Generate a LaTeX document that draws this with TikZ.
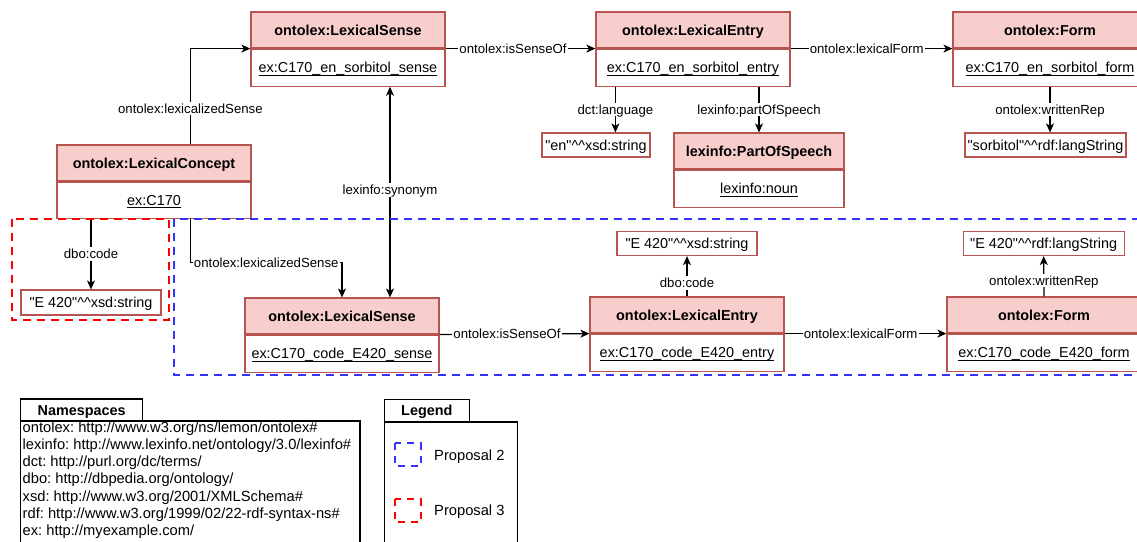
\documentclass[tikz,border=0pt]{standalone}
\usepackage{fontspec}
\setmainfont{Liberation Sans}[Ligatures=TeXOff]
\usetikzlibrary{arrows.meta,calc}
\frenchspacing

\definecolor{hdrfill}{HTML}{F8CECC}
\definecolor{hdrdraw}{HTML}{B85450}
\definecolor{propblue}{HTML}{3333FF}
\definecolor{propred}{HTML}{FF0000}

\newcommand\boxfont{\fontsize{14.4}{17.28}\selectfont}
\newcommand\nsfont{\fontsize{14.7}{17.6}\selectfont}
\newcommand\lblfont{\fontsize{13.2}{15.84}\selectfont}
% underlined resource name with a fixed rule position
\newcommand\ulin[1]{\setbox0\hbox{#1}\rlap{\rule[-2.6pt]{\wd0}{1pt}}\box0}
\newcommand\dcaret{\textasciicircum\textasciicircum}

\tikzset{
  hdr/.style={draw=hdrdraw, fill=hdrfill, line width=1.2pt, minimum width=#1,
    minimum height=36, inner sep=0pt, text height=11, text depth=0.6,
    font=\boxfont\bfseries},
  body/.style={draw=hdrdraw, fill=white, line width=1.2pt, minimum width=#1,
    minimum height=37, inner sep=0pt, text height=11, text depth=0.6,
    font=\boxfont, anchor=north},
  lit/.style={draw=hdrdraw, fill=white, line width=1.2pt, minimum width=#1,
    minimum height=24, inner sep=0pt, text height=11, text depth=0.6,
    font=\boxfont},
  lbl/.style={fill=white, inner sep=1.2pt, text height=10, text depth=1,
    font=\lblfont, text=black},
  arr/.style={line width=1.2pt, -{Stealth[length=9pt,width=8pt,inset=2.5pt]}},
  dblarr/.style={line width=1.2pt,
    {Stealth[length=9pt,width=8pt,inset=2.5pt]}-{Stealth[length=9pt,width=8pt,inset=2.5pt]}},
  proposal/.style={line width=2.2pt, dash pattern=on 8pt off 6pt},
  tabbox/.style={draw=black, line width=1.3pt, inner sep=0pt, text height=11,
    text depth=0.6, font=\boxfont\bfseries},
  frame/.style={draw=black, line width=1.3pt},
  nsline/.style={inner sep=0pt, font=\nsfont, anchor=base west},
}

\begin{document}
\begin{tikzpicture}[x=1pt, y=-1pt]
\useasboundingbox (0,0) rectangle (1137,541);
\clip (0,0) rectangle (1137,541);
\fill[white] (0,0) rectangle (1137,541);

% ---- English sense ----
\node[hdr=194] (sense1h) at (348,30) {ontolex:LexicalSense};
\node[body=194] (sense1b) at (sense1h.south) {\ulin{ex:C170\_en\_sorbitol\_sense}};

\node[hdr=194] (entry1h) at (693,30) {ontolex:LexicalEntry};
\node[body=194] (entry1b) at (entry1h.south) {\ulin{ex:C170\_en\_sorbitol\_entry}};

\node[hdr=194] (form1h) at (1050,30) {ontolex:Form};
\node[body=194] (form1b) at (form1h.south) {\ulin{ex:C170\_en\_sorbitol\_form}};

\node[hdr=194] (conh) at (154,163) {ontolex:LexicalConcept};
\node[body=194, minimum height=36] (conb) at (conh.south) {\ulin{ex:C170}};

\node[hdr=170] (posh) at (759,151) {lexinfo:PartOfSpeech};
\node[body=170] (posb) at (posh.south) {\ulin{lexinfo:noun}};

\node[lit=108] (en) at (596,145) {"en"\dcaret xsd:string};
\node[lit=161] (sorb) at (1045.5,145) {"sorbitol"\dcaret rdf:langString};

% ---- code sense ----
\node[hdr=194] (sense2h) at (342,316) {ontolex:LexicalSense};
\node[body=194] (sense2b) at (sense2h.south) {\ulin{ex:C170\_code\_E420\_sense}};

\node[hdr=194] (entry2h) at (687,315) {ontolex:LexicalEntry};
\node[body=194] (entry2b) at (entry2h.south) {\ulin{ex:C170\_code\_E420\_entry}};

\node[hdr=194] (form2h) at (1044,315) {ontolex:Form};
\node[body=194] (form2b) at (form2h.south) {\ulin{ex:C170\_code\_E420\_form}};

\node[lit=140, minimum height=25] (code3) at (91,302.5) {"E 420"\dcaret xsd:string};
\node[lit=140] (code2) at (687,243.5) {"E 420"\dcaret xsd:string};
\node[lit=161] (rep2) at (1043.7,243.5) {"E 420"\dcaret rdf:langString};

% ---- connectors ----
\draw[arr] ($(conh.north west)+(134,0)$) |-
  node[lbl, pos=0.186] {ontolex:lexicalizedSense} (sense1h.south west);
\draw[arr] (sense1h.south east) -- node[lbl, pos=0.45] {ontolex:isSenseOf} (entry1h.south west);
\draw[arr] (entry1h.south east) -- node[lbl, pos=0.47] {ontolex:lexicalForm} (form1h.south west);

\draw[arr] ($(entry1b.south west)+(20,0)$) coordinate (langx) --
  node[lbl] {dct:language} (langx |- en.north);
\draw[arr] (entry1b.south -| posh.north) -- node[lbl] {lexinfo:partOfSpeech} (posh.north);
\draw[arr] (form1b.south) -- node[lbl] {ontolex:writtenRep} (form1b.south |- sorb.north);

\coordinate (synx) at (390,0);
\draw[dblarr] (sense1b.south -| synx) -- node[lbl, pos=0.49] {lexinfo:synonym} (sense2h.north -| synx);

\draw[arr] (conb.south -| code3.north) -- node[lbl] {dbo:code} (code3.north);
\draw[arr] ($(conb.south west)+(134,0)$) -- ++(0,44) -|
  node[lbl, pos=0.25] {ontolex:lexicalizedSense} (sense2h.north);

\draw[arr] (sense2h.south east) -- node[lbl, pos=0.45] {ontolex:isSenseOf} (entry2h.south west);
\draw[arr] (entry2h.south east) -- node[lbl, pos=0.47] {ontolex:lexicalForm} (form2h.south west);
\draw[arr] (entry2h.north) -- node[lbl, pos=0.33] {dbo:code} (code2.south);
\draw[arr] (form2h.north) -- node[lbl, pos=0.39] {ontolex:writtenRep} (rep2.south);

% ---- proposal regions ----
\draw[proposal, propred] (12,219) rectangle (169,320);
\draw[proposal, propblue] (174,219) rectangle (1145,375);

% ---- namespaces ----
\node[tabbox, minimum width=122, minimum height=22] (nstab) at (81.7,410) {Namespaces};
\draw[frame] (20.7,421) rectangle (360,560);
\foreach \t [count=\i] in {
  ontolex: http://www.w3.org/ns/lemon/ontolex\#,
  lexinfo: http://www.lexinfo.net/ontology/3.0/lexinfo\#,
  dct: http://purl.org/dc/terms/,
  dbo: http://dbpedia.org/ontology/,
  xsd: http://www.w3.org/2001/XMLSchema\#,
  rdf: http://www.w3.org/1999/02/22-rdf-syntax-ns\#,
  ex: http://myexample.com/}
  \node[nsline] (ns\i) at (22.5, 432.8+17.05*\i-17.05) {\t};

% ---- legend ----
\node[tabbox, minimum width=85, minimum height=22.7] (lgtab) at (426.8,410.7) {Legend};
\draw[frame] (384.3,422) rectangle (517.3,560);
\draw[propblue, line width=2pt, dash pattern=on 7pt off 6pt] (395,443) rectangle (420.5,466);
\node[nsline] (lg2) at (434,460) {Proposal 2};
\draw[propred, line width=2pt, dash pattern=on 7pt off 6pt] (395,499) rectangle (420.5,522);
\node[nsline] (lg3) at (434,515) {Proposal 3};
\end{tikzpicture}
\end{document}
